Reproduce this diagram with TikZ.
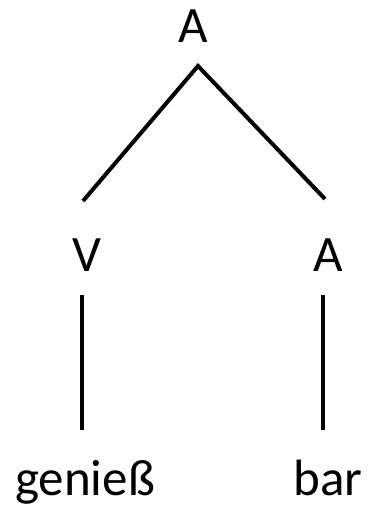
\documentclass[tikz,border=0pt]{standalone}
\usepackage{fontspec}
\setmainfont{Carlito}
\usetikzlibrary{positioning}

\begin{document}
\begin{tikzpicture}[x=1pt, y=-1pt, line width=4pt,
    label/.style={inner sep=0pt, anchor=base, font=\fontsize{51}{60}\selectfont}]
    % Frame
    \useasboundingbox (0,0) rectangle (369,508);

    % Labels
    \node[label] (root) at (193,43) {A};
    \node[label] (verb) at (87,271) {V};
    \node[label] (adj) at (328,271) {A};
    \node[label] (stem) at (85,495) {genieß};
    \node[label] (suffix) at (328,495) {bar};

    % Branch ends
    \coordinate (apex) at (198,66);
    \coordinate (verb-top) at (83,201);
    \coordinate (adj-top) at (325,199);
    \coordinate (verb-bot) at (82,295);
    \coordinate (stem-top) at (82,430);
    \coordinate (adj-bot) at (323,295);
    \coordinate (suffix-top) at (323,430);

    % Branches
    \draw (verb-top) -- (apex) -- (adj-top);
    \draw (verb-bot) -- (stem-top);
    \draw (adj-bot) -- (suffix-top);
\end{tikzpicture}
\end{document}
